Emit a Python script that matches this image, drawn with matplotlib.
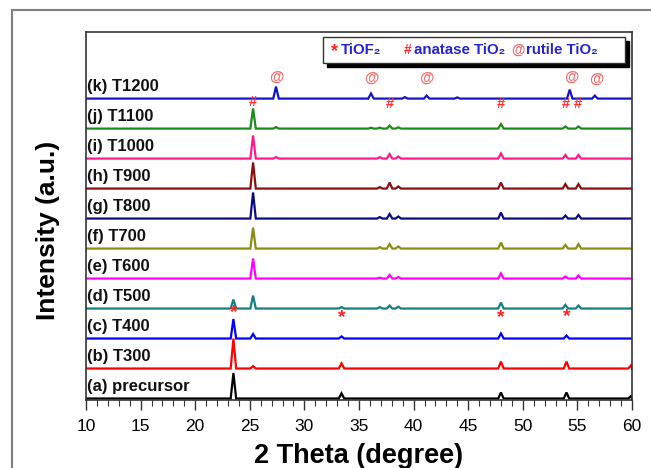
import numpy as np
import matplotlib
matplotlib.use("Agg")
import matplotlib.pyplot as plt
from matplotlib.lines import Line2D
from matplotlib.patches import Rectangle

plt.rcParams['font.family'] = ['Liberation Sans', 'DejaVu Sans']

# sample names, bottom to top
labels = ['(a) precursor', '(b) T300', '(c) T400', '(d) T500', '(e) T600', '(f) T700',
          '(g) T800', '(h) T900', '(i) T1000', '(j) T1100', '(k) T1200']
colors = ['#000000', '#ff0000', '#0000ff', '#138080', '#ff00ff', '#8c8c10',
          '#0b0b80', '#8b0f0f', '#ff1a8c', '#1a8a1a', '#1414c8']

# peak positions (2 theta) and heights (a.u.) for each pattern
peak_pos = [
    [23.5, 33.4, 48.0, 54.0, 59.9],
    [23.5, 25.3, 33.4, 48.0, 54.0, 59.9],
    [23.5, 25.3, 33.4, 48.0, 54.0],
    [23.5, 25.3, 33.4, 36.9, 37.8, 38.6, 48.0, 53.9, 55.1],
    [25.3, 36.9, 37.8, 38.6, 48.0, 53.9, 55.1],
    [25.3, 36.9, 37.8, 38.6, 48.0, 53.9, 55.1],
    [25.3, 36.9, 37.8, 38.6, 48.0, 53.9, 55.1],
    [25.3, 36.9, 37.8, 38.6, 48.0, 53.9, 55.1],
    [25.3, 27.4, 36.9, 37.8, 38.6, 48.0, 53.9, 55.1],
    [25.3, 27.4, 36.1, 36.9, 37.8, 38.6, 48.0, 53.9, 55.1],
    [27.4, 36.1, 39.2, 41.2, 44.0, 54.3, 56.6],
]
peak_h = [
    [0.85, 0.17, 0.2, 0.2, 0.08],
    [1.0, 0.08, 0.17, 0.23, 0.23, 0.1],
    [0.65, 0.15, 0.07, 0.17, 0.1],
    [0.3, 0.43, 0.05, 0.05, 0.1, 0.06, 0.2, 0.12, 0.1],
    [0.67, 0.03, 0.12, 0.05, 0.17, 0.07, 0.1],
    [0.7, 0.05, 0.15, 0.07, 0.2, 0.12, 0.15],
    [0.87, 0.05, 0.15, 0.07, 0.2, 0.1, 0.12],
    [0.87, 0.05, 0.2, 0.07, 0.2, 0.15, 0.15],
    [0.77, 0.05, 0.05, 0.15, 0.07, 0.17, 0.12, 0.12],
    [0.67, 0.05, 0.03, 0.03, 0.1, 0.04, 0.15, 0.07, 0.07],
    [0.4, 0.17, 0.05, 0.1, 0.04, 0.3, 0.1],
]

# phase markers (2 theta, y)
tiof2_x = [23.5, 33.4, 48.0, 54.0]
tiof2_y = [2.85, 2.7, 2.7, 2.73]
anatase_x = [25.3, 37.8, 48.0, 53.9, 55.0]
anatase_y = [9.9, 9.83, 9.83, 9.83, 9.83]
rutile_x = [27.4, 36.1, 41.2, 54.4, 56.7]
rutile_y = [10.72, 10.7, 10.7, 10.72, 10.67]

x_min, x_max = 10, 60
spacing = 1.0
half_w = 0.25

fig = plt.figure(figsize=(6.51, 4.68), dpi=100)
ax = fig.add_axes([0.1321, 0.1453, 0.8387, 0.7863])

for i, (pos, h) in enumerate(zip(peak_pos, peak_h)):
    xs = [x_min]
    ys = [0.0]
    for p, v in sorted(zip(pos, h)):
        xs += [p - half_w, p, min(p + half_w, x_max)]
        ys += [0.0, v, 0.0]
    xs.append(x_max)
    ys.append(0.0)
    off = i * spacing
    ax.plot(xs, np.array(ys) + off, color=colors[i], lw=1.6, solid_joinstyle='miter')
    ax.text(10.12, off + 0.4, labels[i], fontsize=12, fontweight='bold',
            va='center', ha='left', color='#111111')

for x, y in zip(tiof2_x, tiof2_y):
    ax.text(x, y, '*', color='#ff2020', fontsize=14, fontweight='bold', ha='center', va='center')
for x, y in zip(anatase_x, anatase_y):
    ax.text(x, y, '#', color='#ff3030', fontsize=10.5, fontweight='bold', ha='center', va='center')
for x, y in zip(rutile_x, rutile_y):
    ax.text(x, y, '@', color='#f07070', fontsize=10.5, fontweight='bold', ha='center', va='center')

ax.set_xlim(x_min, x_max)
ax.set_ylim(-0.05, 12.22)
ax.set_xticks(np.arange(10, 61, 5))
ax.set_xticks(np.arange(10, 61, 1), minor=True)
ax.set_yticks([])
ax.tick_params(axis='x', which='major', direction='out', length=7, width=1, labelsize=12.5, pad=7,
               color='#333333')
ax.tick_params(axis='x', which='minor', direction='out', length=4.5, width=0.8, color='#333333')
for s in ax.spines.values():
    s.set_color('#333333')
    s.set_linewidth(1.2)
ax.set_xlabel('2 Theta (degree)', fontsize=19.5, fontweight='bold', labelpad=6)
ax.set_ylabel('Intensity (a.u.)', fontsize=19, fontweight='bold')
ax.yaxis.set_label_coords(-0.048, 0.46)

# legend box with shadow
lx0, ly0, lw, lh = 323 / 651, 1 - 63 / 468, 302 / 651, 26 / 468
fig.patches.append(Rectangle((lx0 + 4 / 651, ly0 - 4 / 468), lw, lh, transform=fig.transFigure,
                             facecolor='black', edgecolor='black', zorder=5))
fig.patches.append(Rectangle((lx0, ly0), lw, lh, transform=fig.transFigure,
                             facecolor='white', edgecolor='#333333', lw=1.0, zorder=6))
ty = 1 - 50 / 468
blue = '#2424d0'
fs_leg = 10.8
fig.text(335 / 651, ty - 0.004, '*', color='#ff2020', fontsize=13, fontweight='bold', ha='center', va='center', zorder=7)
fig.text(341 / 651, ty, 'TiOF₂', color=blue, fontsize=fs_leg, fontweight='bold', ha='left', va='center', zorder=7)
fig.text(408 / 651, ty, '#', color='#ff3030', fontsize=10, fontweight='bold', ha='center', va='center', zorder=7)
fig.text(414 / 651, ty, 'anatase TiO₂', color=blue, fontsize=fs_leg, fontweight='bold', ha='left', va='center', zorder=7)
fig.text(518 / 651, ty, '@', color='#f07070', fontsize=10, fontweight='bold', ha='center', va='center', zorder=7)
fig.text(526 / 651, ty, 'rutile TiO₂', color=blue, fontsize=fs_leg, fontweight='bold', ha='left', va='center', zorder=7)

# outer frame lines
fig.add_artist(Line2D([12 / 651, 1.0], [1 - 10 / 468, 1 - 10 / 468], transform=fig.transFigure,
                      color='#808080', lw=1.5))
fig.add_artist(Line2D([12 / 651, 12 / 651], [0.0, 1 - 10 / 468], transform=fig.transFigure,
                      color='#808080', lw=1.5))

fig.savefig('out.png', dpi=100)
